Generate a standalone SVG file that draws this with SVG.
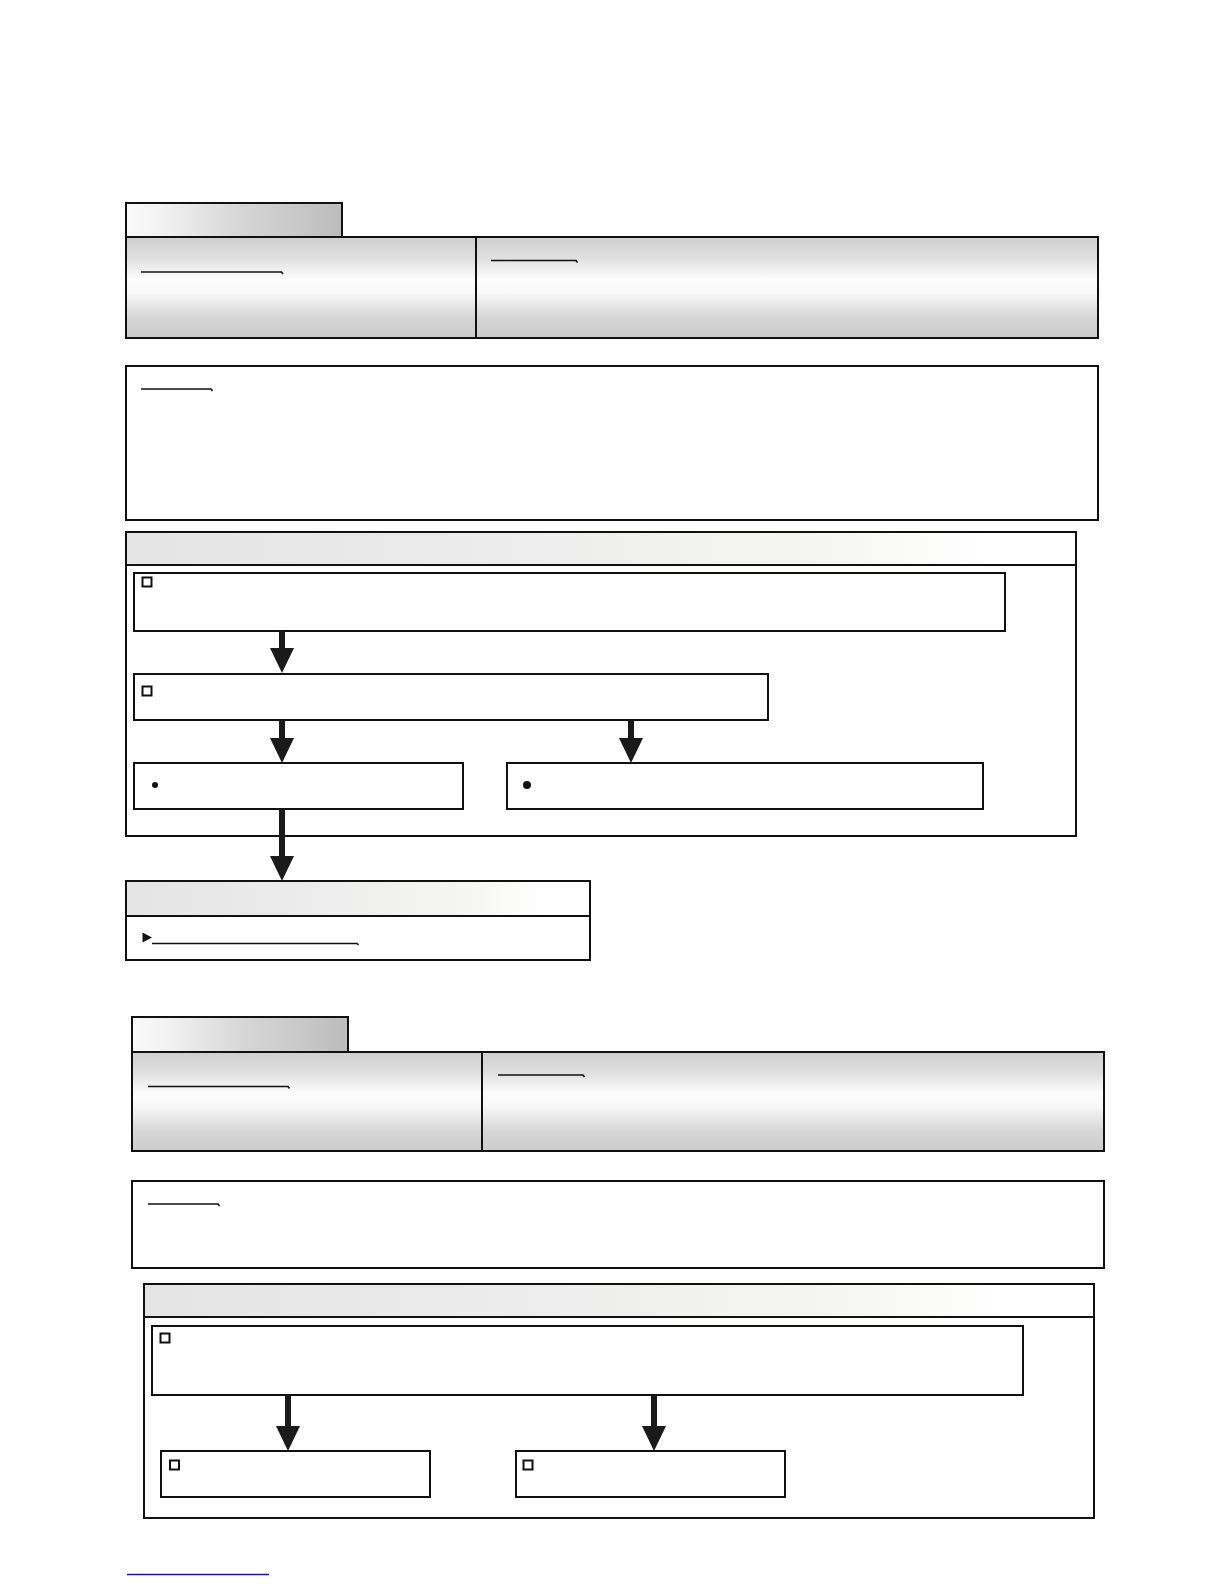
<svg xmlns="http://www.w3.org/2000/svg" width="1224" height="1584" viewBox="0 0 1224 1584">
<style>
.box{fill:#fff;stroke:#111;stroke-width:2}
.pan{fill:url(#panelGrad);stroke:#111;stroke-width:2}
.tab{fill:url(#tabGrad);stroke:#111;stroke-width:2}
.hdr{fill:url(#hdrGrad);stroke:#111;stroke-width:2}
.ul{fill:none;stroke:#111;stroke-width:1.6}
.sq{fill:#fff;stroke:#111;stroke-width:2}
.conn{stroke:#1a1a1a;stroke-width:6;fill:none;marker-end:url(#head)}
</style>
<defs>
<linearGradient id="panelGrad" x1="0" y1="0" x2="0" y2="1">
<stop offset="0" stop-color="#cfcfcf"/>
<stop offset="0.2" stop-color="#dedede"/>
<stop offset="0.42" stop-color="#fdfdfd"/>
<stop offset="0.55" stop-color="#f8f8f8"/>
<stop offset="0.8" stop-color="#d6d6d6"/>
<stop offset="1" stop-color="#cccccc"/>
</linearGradient>
<linearGradient id="tabGrad" x1="0" y1="0" x2="1" y2="0">
<stop offset="0" stop-color="#fafafa"/>
<stop offset="0.15" stop-color="#f3f3f3"/>
<stop offset="0.5" stop-color="#d8d8d8"/>
<stop offset="1" stop-color="#bcbcbc"/>
</linearGradient>
<linearGradient id="hdrGrad" x1="0" y1="0" x2="1" y2="0">
<stop offset="0" stop-color="#e4e4e4"/>
<stop offset="0.4" stop-color="#ececec"/>
<stop offset="0.75" stop-color="#f6f6f4"/>
<stop offset="0.9" stop-color="#ffffff"/>
<stop offset="1" stop-color="#ffffff"/>
</linearGradient>
<marker id="head" viewBox="0 -12 25 24" refX="0" refY="0" markerWidth="25" markerHeight="24" markerUnits="userSpaceOnUse" orient="auto">
<path d="M0,-12 L25,0 L0,12 z" fill="#1a1a1a"/>
</marker>
</defs>

<g id="section1-tab"><rect class="tab" x="126" y="203" width="216" height="34"/></g>
<g id="section1-panel-left">
<rect class="pan" x="126" y="237" width="350" height="101"/>
<path class="ul" d="M141,272 H281.5 L283,274"/>
</g>
<g id="section1-panel-right">
<rect class="pan" x="476" y="237" width="622" height="101"/>
<path class="ul" d="M491,260.5 H576 L577.5,262.5"/>
</g>
<g id="section1-note">
<rect class="box" x="126" y="366" width="972" height="154"/>
<path class="ul" d="M141,389 H211 L212.5,391"/>
</g>
<g id="section1-container">
<rect class="box" x="126" y="532" width="950" height="304"/>
<rect class="hdr" x="126" y="532" width="950" height="33"/>
</g>
<g id="node-a">
<rect class="box" x="134" y="573" width="871" height="58"/>
<rect class="sq" x="142.5" y="577.5" width="9" height="9"/>
</g>
<g id="node-b">
<rect class="box" x="134" y="674" width="634" height="46"/>
<rect class="sq" x="142.5" y="686.5" width="9" height="9"/>
</g>
<g id="node-c">
<rect class="box" x="134" y="763" width="329" height="46"/>
<circle cx="155" cy="785" r="3" fill="#111"/>
</g>
<g id="node-d">
<rect class="box" x="507" y="763" width="476" height="46"/>
<circle cx="527" cy="785" r="4" fill="#111"/>
</g>
<g id="node-e">
<rect class="box" x="126" y="881" width="464" height="79"/>
<rect class="hdr" x="126" y="881" width="464" height="35"/>
<polygon points="142.5,932.5 152,937.5 142.5,942.5" fill="#111"/>
<path class="ul" d="M152,943.5 H357 L358.5,945"/>
</g>

<g id="section2-tab"><rect class="tab" x="132" y="1017" width="216" height="35"/></g>
<g id="section2-panel-left">
<rect class="pan" x="132" y="1052" width="350" height="99"/>
<path class="ul" d="M148,1086.5 H288 L289.5,1088.5"/>
</g>
<g id="section2-panel-right">
<rect class="pan" x="482" y="1052" width="622" height="99"/>
<path class="ul" d="M498,1075 H583 L584.5,1077"/>
</g>
<g id="section2-note">
<rect class="box" x="132" y="1181" width="972" height="87"/>
<path class="ul" d="M148,1204 H218 L219.5,1206"/>
</g>
<g id="section2-container">
<rect class="box" x="144" y="1284" width="950" height="234"/>
<rect class="hdr" x="144" y="1284" width="950" height="33"/>
</g>
<g id="node-f">
<rect class="box" x="152" y="1326" width="871" height="69"/>
<rect class="sq" x="160.5" y="1333.5" width="9" height="9"/>
</g>
<g id="node-g">
<rect class="box" x="161" y="1451" width="269" height="46"/>
<rect class="sq" x="170" y="1460.5" width="9" height="9"/>
</g>
<g id="node-h">
<rect class="box" x="516" y="1451" width="269" height="46"/>
<rect class="sq" x="523.5" y="1460.5" width="9" height="9"/>
</g>

<g id="connectors">
<line class="conn" x1="282" y1="631" x2="282" y2="648"/>
<line class="conn" x1="282" y1="720" x2="282" y2="738"/>
<line class="conn" x1="631" y1="720" x2="631" y2="738"/>
<line class="conn" x1="282" y1="809" x2="282" y2="856"/>
<line class="conn" x1="288" y1="1395" x2="288" y2="1426"/>
<line class="conn" x1="654" y1="1395" x2="654" y2="1426"/>
</g>

<g id="footer"><line x1="127" y1="1574.5" x2="269" y2="1574.5" stroke="#1a1aa0" stroke-width="1.6"/></g>
</svg>
